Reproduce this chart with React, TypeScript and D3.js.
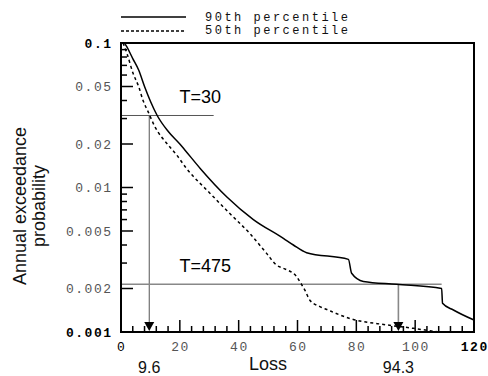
import React, { useEffect, useRef } from 'react';
import * as d3 from 'd3';

// 90th percentile curve (solid)
const p90Loss = [1.2, 2, 4, 6, 8, 10, 12.3, 16, 20, 21.7, 27, 36, 45, 55.2, 58.6, 63.1, 77.3, 78.4, 82.4, 93.7, 109, 109.3, 113, 120];
const p90Prob = [0.1, 0.094, 0.078, 0.065, 0.05, 0.0395, 0.0315, 0.0245, 0.02, 0.0182, 0.0135, 0.0086, 0.006, 0.00445, 0.004, 0.00354, 0.00318, 0.00255, 0.00224, 0.00214, 0.002, 0.00158, 0.00142, 0.00121];

// 50th percentile curve (dotted)
const p50Loss = [0.7, 2, 4.1, 6, 7.5, 9.2, 11.5, 16, 18.9, 22.2, 30.3, 37, 43.8, 49.5, 52.9, 55.2, 59.7, 60.8, 62.5, 64.2, 67.6, 70, 77.8, 90.3, 99.4, 105, 108];
const p50Prob = [0.1, 0.085, 0.0617, 0.05, 0.04, 0.0335, 0.0264, 0.0197, 0.0168, 0.0136, 0.0091, 0.0066, 0.0048, 0.0035, 0.0029, 0.00276, 0.00242, 0.00223, 0.00195, 0.00166, 0.0015, 0.00143, 0.00124, 0.00112, 0.00106, 0.00102, 0.001];

// return period markers
const returnPeriods = ['T=30', 'T=475'];
const rpProb = [0.0315, 0.00214];
const rpLoss = [9.6, 94.3];
const rpLineEnd = [31.5, 109];
const rpLossLabels = ['9.6', '94.3'];

const yMajor = [0.1, 0.05, 0.02, 0.01, 0.005, 0.002, 0.001];
const yMajorLabels = ['0.1', '0.05', '0.02', '0.01', '0.005', '0.002', '0.001'];
const yMinor = [0.09, 0.08, 0.07, 0.06, 0.04, 0.03, 0.009, 0.008, 0.007, 0.006, 0.004, 0.003];
const xMajor = [0, 20, 40, 60, 80, 100, 120];
const xMinor = d3.range(4, 120, 4).filter((v) => v % 20 !== 0);

const legendLabels = ['90th percentile', '50th percentile'];

const App: React.FC = () => {
  const svgRef = useRef<SVGSVGElement | null>(null);

  useEffect(() => {
    if (!svgRef.current) return;
    const svg = d3.select(svgRef.current);
    svg.selectAll('*').remove();

    const left = 121, right = 474, top = 43, bottom = 332;
    const x = d3.scaleLinear().domain([0, 120]).range([left, right]);
    const y = d3.scaleLog().domain([0.001, 0.1]).range([bottom, top]);

    const mono = '"Liberation Mono", "DejaVu Sans Mono", monospace';
    const sans = '"Liberation Sans", Arial, sans-serif';

    // legend
    const legend = svg.append('g');
    legendLabels.forEach((lab, i) => {
      const ly = 17 + i * 14;
      legend.append('line')
        .attr('x1', 121).attr('x2', 186)
        .attr('y1', ly).attr('y2', ly)
        .attr('stroke', '#000')
        .attr('stroke-width', 1.5)
        .attr('stroke-dasharray', i === 1 ? '3,2' : null);
      legend.append('text')
        .attr('x', 205).attr('y', 21 + i * 13)
        .attr('font-family', mono)
        .attr('font-size', 12)
        .attr('letter-spacing', 2.5)
        .attr('fill', '#111')
        .text(lab);
    });

    // return period lines
    returnPeriods.forEach((lab, i) => {
      const gray = i === 0 ? '#555' : '#888';
      const sw = i === 0 ? 1 : 1.6;
      svg.append('line')
        .attr('x1', x(0)).attr('x2', x(rpLineEnd[i]))
        .attr('y1', y(rpProb[i])).attr('y2', y(rpProb[i]))
        .attr('stroke', gray).attr('stroke-width', sw);
      svg.append('line')
        .attr('x1', x(rpLoss[i])).attr('x2', x(rpLoss[i]))
        .attr('y1', y(rpProb[i])).attr('y2', bottom - 9)
        .attr('stroke', gray).attr('stroke-width', sw);
      const ax = x(rpLoss[i]);
      svg.append('path')
        .attr('d', `M${ax - 5},${bottom - 10} L${ax + 5},${bottom - 10} L${ax},${bottom - 1} Z`)
        .attr('fill', '#000');
      svg.append('text')
        .attr('x', 179.5)
        .attr('y', i === 0 ? 102.5 : 272)
        .attr('font-family', sans)
        .attr('font-size', 18)
        .attr('fill', '#000')
        .text(lab);
      svg.append('text')
        .attr('x', ax)
        .attr('y', 373)
        .attr('text-anchor', 'middle')
        .attr('font-family', sans)
        .attr('font-size', 16)
        .attr('fill', '#111')
        .text(rpLossLabels[i]);
    });

    // curves
    const line = d3.line<[number, number]>()
      .x((d) => x(d[0]))
      .y((d) => y(d[1]))
      .curve(d3.curveMonotoneX);

    svg.append('path')
      .datum(p90Loss.map((l, i) => [l, p90Prob[i]] as [number, number]))
      .attr('fill', 'none')
      .attr('stroke', '#000')
      .attr('stroke-width', 1.5)
      .attr('d', line);

    svg.append('path')
      .datum(p50Loss.map((l, i) => [l, p50Prob[i]] as [number, number]))
      .attr('fill', 'none')
      .attr('stroke', '#000')
      .attr('stroke-width', 1.5)
      .attr('stroke-dasharray', '3,3')
      .attr('d', line);

    // ticks
    const ticks = svg.append('g').attr('stroke', '#000').attr('stroke-width', 1.5);
    yMajor.forEach((v) => {
      ticks.append('line').attr('x1', left).attr('x2', left + 12).attr('y1', y(v)).attr('y2', y(v));
    });
    yMinor.forEach((v) => {
      ticks.append('line').attr('x1', left).attr('x2', left + 6).attr('y1', y(v)).attr('y2', y(v));
    });
    xMajor.forEach((v) => {
      ticks.append('line').attr('x1', x(v)).attr('x2', x(v)).attr('y1', bottom).attr('y2', bottom - 12);
    });
    xMinor.forEach((v) => {
      ticks.append('line').attr('x1', x(v)).attr('x2', x(v)).attr('y1', bottom).attr('y2', bottom - 6);
    });

    // frame
    svg.append('rect')
      .attr('x', left).attr('y', top)
      .attr('width', right - left).attr('height', bottom - top)
      .attr('fill', 'none')
      .attr('stroke', '#000')
      .attr('stroke-width', 2);

    // tick labels
    const ls = 1.5;
    yMajor.forEach((v, i) => {
      const strong = v === 0.1 || v === 0.001;
      svg.append('text')
        .attr('x', 111 + ls)
        .attr('y', y(v))
        .attr('dy', '0.35em')
        .attr('text-anchor', 'end')
        .attr('font-family', mono)
        .attr('font-size', 13)
        .attr('letter-spacing', ls)
        .attr('font-weight', strong ? 'bold' : 'normal')
        .attr('fill', strong ? '#000' : '#555')
        .text(yMajorLabels[i]);
    });
    xMajor.forEach((v) => {
      const strong = v === 120;
      svg.append('text')
        .attr('x', x(v) + ls / 2)
        .attr('y', 351)
        .attr('text-anchor', 'middle')
        .attr('font-family', mono)
        .attr('font-size', 13)
        .attr('letter-spacing', ls)
        .attr('font-weight', strong ? 'bold' : 'normal')
        .attr('fill', strong || v === 0 ? '#000' : '#555')
        .text(String(v));
    });

    // axis titles
    svg.append('text')
      .attr('x', 268).attr('y', 370)
      .attr('text-anchor', 'middle')
      .attr('font-family', sans)
      .attr('font-size', 18)
      .attr('fill', '#111')
      .text('Loss');

    const yt = svg.append('text')
      .attr('transform', 'translate(26,206) rotate(-90)')
      .attr('text-anchor', 'middle')
      .attr('font-family', sans)
      .attr('font-size', 18)
      .attr('fill', '#111');
    yt.append('tspan').attr('x', 0).attr('y', 0).text('Annual exceedance');
    yt.append('tspan').attr('x', 0).attr('y', 19).text('probability');
  }, []);

  return (
    <svg
      ref={svgRef}
      width={488}
      height={376}
      style={{ position: 'absolute', left: 0, top: 0, background: '#fff' }}
    />
  );
};

export default App;
